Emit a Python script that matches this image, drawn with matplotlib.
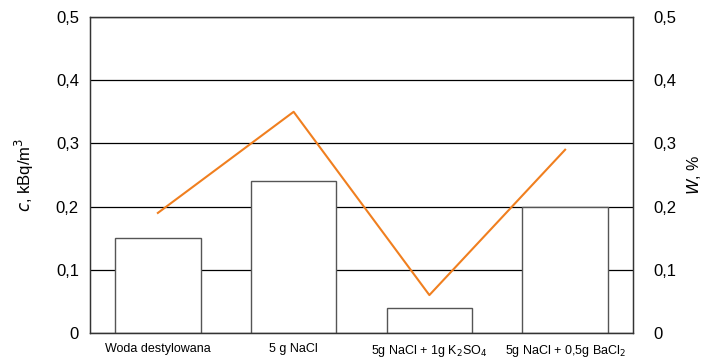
import matplotlib.pyplot as plt
import numpy as np

plt.rcParams['font.family'] = ['Liberation Sans', 'DejaVu Sans']

categories = ['Woda destylowana', '5 g NaCl', '5g NaCl + 1g K$_2$SO$_4$', '5g NaCl + 0,5g BaCl$_2$']
c_values = [0.15, 0.24, 0.04, 0.20]
w_values = [0.19, 0.35, 0.06, 0.29]
yticks = [0, 0.1, 0.2, 0.3, 0.4, 0.5]
ytick_labels = ['0', '0,1', '0,2', '0,3', '0,4', '0,5']

fig = plt.figure(figsize=(7.1, 3.58), dpi=100)
ax = fig.add_axes([90 / 710, 25 / 358, 543 / 710, 316 / 358])
x = np.arange(len(categories))

ax.set_axisbelow(True)
ax.grid(axis='y', color='black', linewidth=0.9)
ax.bar(x, c_values, width=0.63, facecolor='white', edgecolor='#555555', linewidth=1.0)
ax.set_xlim(-0.5, 3.5)
ax.set_ylim(0, 0.5)
ax.set_yticks(yticks)
ax.set_yticklabels(ytick_labels, fontsize=12)
ax.set_xticks(x)
ax.set_xticklabels(categories, fontsize=9)
ax.tick_params(axis='both', length=0, pad=7)
ax.tick_params(axis='y', pad=8)
for s in ax.spines.values():
    s.set_color('#333333')
    s.set_linewidth(1.0)
ax.set_ylabel('$c$, kBq/m$^3$', fontsize=12, labelpad=14)

ax2 = ax.twinx()
ax2.plot(x, w_values, color='#F07F1F', linewidth=1.5)
ax2.set_ylim(0, 0.5)
ax2.set_yticks(yticks)
ax2.set_yticklabels(ytick_labels, fontsize=12)
ax2.tick_params(axis='y', length=0, pad=15)
for s in ax2.spines.values():
    s.set_color('#333333')
ax2.set_ylabel('$W$, %', fontsize=11.5, labelpad=6)

fig.savefig('out.png', dpi=100)
